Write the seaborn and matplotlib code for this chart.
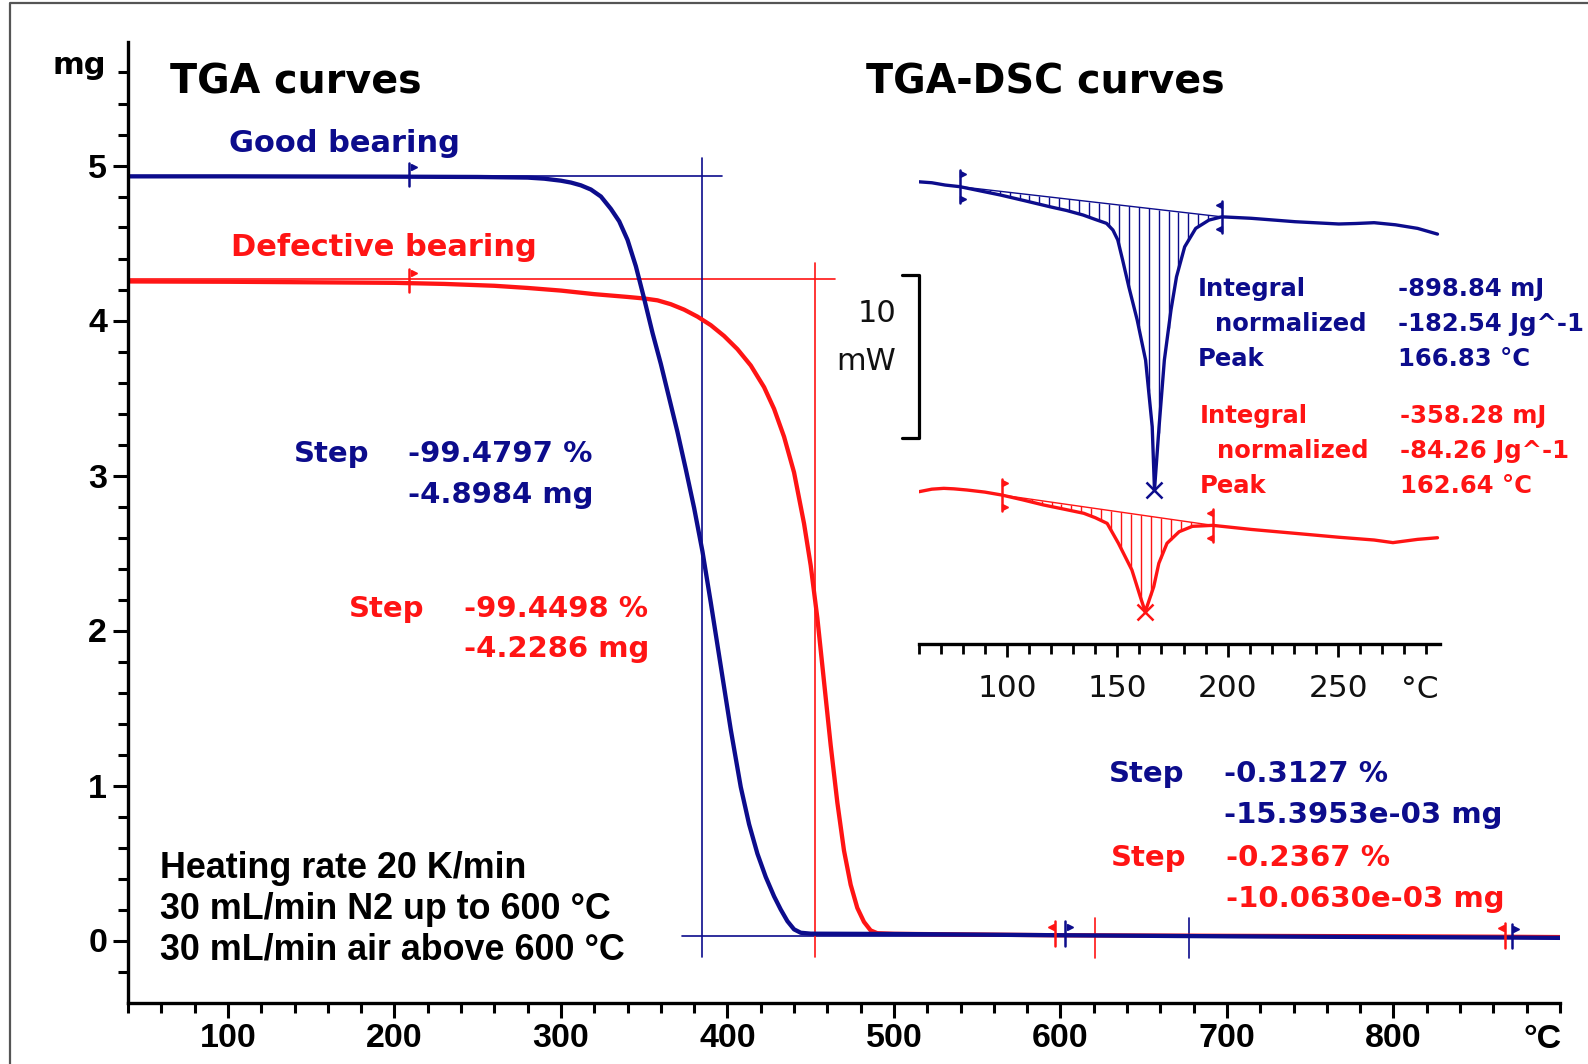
import numpy as np
import matplotlib
matplotlib.use("Agg")
import matplotlib.pyplot as plt
import seaborn as sns
from matplotlib.ticker import FixedLocator, NullFormatter
from matplotlib.lines import Line2D

W, H = 1588, 1064
NAVY = "#0c0c8c"
RED = "#ff1414"

# ---- TGA mass curves (temperature in degC, mass in mg) ----
good_temp = [40, 100, 200, 250, 280, 290, 300, 306, 312, 318, 324, 330, 335, 340,
             345, 350, 355, 360, 365, 370, 375, 380, 385, 390, 396, 402, 408, 413,
             418, 423, 428, 432, 436, 440, 444, 450, 500, 597, 700, 800, 869, 900]
good_mass = [4.930, 4.930, 4.928, 4.926, 4.922, 4.915, 4.902, 4.890, 4.872, 4.845,
             4.800, 4.720, 4.640, 4.520, 4.350, 4.140, 3.920, 3.720, 3.500, 3.280,
             3.040, 2.790, 2.510, 2.180, 1.770, 1.360, 0.990, 0.750, 0.560, 0.410,
             0.285, 0.200, 0.125, 0.072, 0.050, 0.044, 0.042, 0.034, 0.027, 0.022,
             0.019, 0.017]

bad_temp = [40, 100, 200, 230, 260, 280, 300, 320, 340, 350, 358, 366, 374, 382,
            390, 398, 406, 414, 422, 428, 434, 440, 446, 450, 454, 458, 462, 466,
            470, 474, 478, 482, 486, 490, 500, 597, 700, 800, 869, 900]
bad_mass = [4.252, 4.250, 4.243, 4.236, 4.224, 4.210, 4.193, 4.170, 4.152, 4.142,
            4.130, 4.105, 4.070, 4.025, 3.970, 3.900, 3.815, 3.710, 3.570, 3.430,
            3.250, 3.020, 2.690, 2.420, 2.080, 1.670, 1.260, 0.890, 0.580, 0.360,
            0.210, 0.120, 0.065, 0.047, 0.043, 0.034, 0.030, 0.027, 0.024, 0.022]

# step evaluation: upper / lower reference level (mg) and inflection temperature
good_step_levels = [4.9304, 0.0320]
bad_step_levels = [4.2646, 0.0360]
good_inflection = 384.7
bad_inflection = 452.6
good_step_limits = [208.7, 603.0]
bad_step_limits = [208.7, 597.0]
good_step2 = [603.0, 871.0, 677.0]
bad_step2 = [597.0, 867.0, 621.0]

# ---- DSC heat-flow curves (degC, mW, stacked with an offset) ----
dsc_temp_good = [60, 66, 72, 78.7, 88, 97, 108, 119.4, 127, 134.5, 140, 145.1, 148,
                 150.2, 152.4, 155.2, 159, 162.8, 165.8, 166.83, 168.9, 171.3, 174.3,
                 176.8, 180.5, 185.5, 191.5, 197.3, 210.6, 230.5, 250.3, 258, 266.3,
                 276, 286, 295]
dsc_good = [28.36, 28.30, 28.16, 28.06, 27.80, 27.55, 27.20, 26.83, 26.60, 26.32,
            26.05, 25.81, 25.40, 24.79, 23.56, 21.92, 19.88, 17.42, 13.33, 9.45,
            13.33, 17.42, 20.49, 22.53, 24.37, 25.50, 26.01, 26.21, 26.12, 25.91,
            25.77, 25.80, 25.85, 25.72, 25.50, 25.15]

dsc_temp_bad = [60, 66, 71.4, 76, 81.8, 90, 97.7, 107, 116.6, 126, 134.8, 140, 145.4,
                150.5, 156.6, 160.4, 162.64, 166.5, 168.8, 172.5, 178, 184, 193.2,
                210.6, 230.5, 250.3, 266.3, 274.8, 286, 295]
dsc_bad = [9.34, 9.50, 9.55, 9.52, 9.45, 9.32, 9.14, 8.85, 8.53, 8.27, 8.02, 7.75,
           7.40, 6.18, 4.54, 2.90, 1.98, 3.52, 4.95, 6.18, 6.89, 7.22, 7.28, 7.03,
           6.79, 6.55, 6.38, 6.22, 6.42, 6.52]

good_peak = 166.83
bad_peak = 162.64
good_int_limits = [78.7, 197.3]
bad_int_limits = [97.7, 193.2]
scale_bar_mw = 10

main_xticks = [100, 200, 300, 400, 500, 600, 700, 800]
main_yticks = [0, 1, 2, 3, 4, 5]
dsc_xticks = [100, 150, 200, 250]

sns.set_theme(style="white")
plt.rcParams["font.family"] = ["DejaVu Sans"]
plt.rcParams["axes.linewidth"] = 2.4


def fx(x):
    return x / W


def fy(y):
    return 1 - y / H


fig = plt.figure(figsize=(W / 100, H / 100), dpi=100)
fig.patch.set_facecolor("white")

# ---------------- main TGA axes ----------------
ax = fig.add_axes([fx(128), fy(1002.5), 1432 / W, 961 / H])
ax.set_xlim(40, 900)
ax.set_ylim(-0.4, 5.8)
ax.patch.set_alpha(0)
for s in ("top", "right"):
    ax.spines[s].set_visible(False)
for s in ("left", "bottom"):
    ax.spines[s].set_color("black")
    ax.spines[s].set_linewidth(2.4)

ax.xaxis.set_major_locator(FixedLocator(main_xticks))
ax.xaxis.set_minor_locator(FixedLocator(np.arange(40, 901, 20)))
ax.yaxis.set_major_locator(FixedLocator(main_yticks))
ax.yaxis.set_minor_locator(FixedLocator(np.arange(-0.2, 5.61, 0.2)))
ax.xaxis.set_minor_formatter(NullFormatter())
ax.yaxis.set_minor_formatter(NullFormatter())
ax.set_xticklabels([str(v) for v in main_xticks])
ax.set_yticklabels([str(v) for v in main_yticks])
ax.tick_params(which="major", direction="out", length=11, width=2.2,
               color="black", labelcolor="black", labelsize=24.5, pad=4,
               bottom=True, left=True)
ax.tick_params(which="minor", direction="out", length=7.5, width=2.2,
               color="black", bottom=True, left=True)
for lab in ax.get_xticklabels() + ax.get_yticklabels():
    lab.set_fontfamily("Liberation Sans")
    lab.set_fontweight("bold")

# reference lines of the main step evaluation
thin = 1.2
ax.plot([40, 396.7], [good_step_levels[0]] * 2, color=NAVY, lw=thin)
ax.plot([40, 464.6], [bad_step_levels[0]] * 2, color=RED, lw=thin)
ax.plot([372.7, 900], [good_step_levels[1]] * 2, color=NAVY, lw=thin, zorder=1)
ax.plot([good_inflection] * 2, [5.05, -0.108], color=NAVY, lw=thin)
ax.plot([bad_inflection] * 2, [4.37, -0.108], color=RED, lw=thin)
ax.plot([bad_step2[2]] * 2, [0.148, -0.116], color=RED, lw=thin)
ax.plot([good_step2[2]] * 2, [0.148, -0.116], color=NAVY, lw=thin)

sns.lineplot(x=bad_temp, y=bad_mass, ax=ax, color=RED, lw=3.1,
             estimator=None, sort=False)
sns.lineplot(x=good_temp, y=good_mass, ax=ax, color=NAVY, lw=3.1,
             estimator=None, sort=False)

# evaluation flags
for t, m, c in [(good_step_limits[0], np.interp(good_step_limits[0], good_temp, good_mass), NAVY),
                (bad_step_limits[0], np.interp(bad_step_limits[0], bad_temp, bad_mass), RED)]:
    ax.plot([t, t], [m - 0.06, m + 0.09], color=c, lw=1.8)
    ax.plot([t + 3], [m + 0.065], marker=">", ms=5, color=c, mec=c)

for lims, temps, mass, c, flip in [(bad_step2, bad_temp, bad_mass, RED, -1),
                                   (good_step2, good_temp, good_mass, NAVY, 1)]:
    for t in lims[:2]:
        m = np.interp(t, temps, mass)
        ax.plot([t, t], [m - 0.07, m + 0.09], color=c, lw=1.8)
        ax.plot([t + 2.6 * flip], [m + 0.055], marker=">" if flip > 0 else "<",
                ms=5, color=c, mec=c)

# ---------------- DSC inset ----------------
ax2 = fig.add_axes([fx(918.6), fy(644), 521.1 / W, 494 / H])
ax2.set_xlim(60, 296)
ax2.set_ylim(0, 30.31)
ax2.patch.set_alpha(0)
for s in ("top", "right", "left"):
    ax2.spines[s].set_visible(False)
ax2.spines["bottom"].set_color("black")
ax2.spines["bottom"].set_linewidth(2.4)
ax2.xaxis.set_major_locator(FixedLocator(dsc_xticks))
ax2.xaxis.set_minor_locator(FixedLocator(np.arange(60, 291, 10)))
ax2.xaxis.set_minor_formatter(NullFormatter())
ax2.set_xticklabels([str(v) for v in dsc_xticks])
ax2.set_yticks([])
ax2.tick_params(which="major", direction="out", length=9.5, width=2.0,
                color="black", labelcolor="#111111", labelsize=22.5, pad=12,
                bottom=True, left=False)
ax2.tick_params(which="minor", direction="out", length=7, width=2.0,
                color="black", bottom=True)

for temps, vals, lims, peak, c in [(dsc_temp_good, dsc_good, good_int_limits, good_peak, NAVY),
                                   (dsc_temp_bad, dsc_bad, bad_int_limits, bad_peak, RED)]:
    sns.lineplot(x=temps, y=vals, ax=ax2, color=c, lw=2.4, estimator=None, sort=False)
    y0, y1 = np.interp(lims, temps, vals)
    ax2.plot(lims, [y0, y1], color=c, lw=1.0)
    ht = np.arange(lims[0] + 4.5, lims[1], 4.5)
    base = np.interp(ht, lims, [y0, y1])
    curve = np.interp(ht, temps, vals)
    ax2.vlines(ht, curve, base, color=c, lw=1.0)
    for t, y, mk in [(lims[0], y0, ">"), (lims[1], y1, "<")]:
        ax2.plot([t, t], [y - 1.0, y + 1.0], color=c, lw=1.8)
        off = 1.3 if mk == ">" else -1.3
        ax2.plot([t + off, t + off], [y + 0.75, y - 0.75], ls="none",
                 marker=mk, ms=5, color=c, mec=c)
    py = np.interp(peak, temps, vals)
    ax2.plot([peak], [py], marker="x", ms=11, mew=1.8, color=c)

# 10 mW scale bar
sb_top = 22.64
ax2.plot([52.5, 60, 60, 52.5], [sb_top, sb_top, sb_top - scale_bar_mw, sb_top - scale_bar_mw],
         color="black", lw=2.3, clip_on=False)
fig.text(fx(896), fy(314), str(scale_bar_mw), ha="right", va="center", fontsize=22,
         color="#111111")
fig.text(fx(896), fy(361), "mW", ha="right", va="center", fontsize=22, color="#111111")
fig.text(fx(1420), fy(689), "°C", ha="center", va="center", fontsize=22.5, color="#111111")

# ---------------- texts ----------------
bold = dict(fontweight="bold", va="center", ha="left")
fig.text(fx(79), fy(66), "mg", ha="center", va="center", fontsize=22,
         fontweight="bold", color="black")
fig.text(fx(1562), fy(1039), "°C", ha="right", va="center", fontsize=24.5,
         fontweight="bold", color="black", fontfamily="Liberation Sans")
fig.text(fx(170), fy(83), "TGA curves", fontsize=28.5, color="black", **bold)
fig.text(fx(866), fy(83), "TGA-DSC curves", fontsize=28.5, color="black", **bold)
fig.text(fx(229), fy(143), "Good bearing", fontsize=22, color=NAVY, **bold)
fig.text(fx(231), fy(248), "Defective bearing", fontsize=22, color=RED, **bold)

fig.text(fx(294), fy(454), "Step", fontsize=21, color=NAVY, **bold)
fig.text(fx(408), fy(454), "-99.4797 %", fontsize=21, color=NAVY, **bold)
fig.text(fx(408), fy(495), "-4.8984 mg", fontsize=21, color=NAVY, **bold)
fig.text(fx(349), fy(609), "Step", fontsize=21, color=RED, **bold)
fig.text(fx(464), fy(609), "-99.4498 %", fontsize=21, color=RED, **bold)
fig.text(fx(464), fy(649), "-4.2286 mg", fontsize=21, color=RED, **bold)

fig.text(fx(1109), fy(774), "Step", fontsize=21, color=NAVY, **bold)
fig.text(fx(1224), fy(774), "-0.3127 %", fontsize=21, color=NAVY, **bold)
fig.text(fx(1224), fy(815), "-15.3953e-03 mg", fontsize=21, color=NAVY, **bold)
fig.text(fx(1111), fy(858), "Step", fontsize=21, color=RED, **bold)
fig.text(fx(1226), fy(858), "-0.2367 %", fontsize=21, color=RED, **bold)
fig.text(fx(1226), fy(899), "-10.0630e-03 mg", fontsize=21, color=RED, **bold)

for row, (lbl, val) in enumerate([("Integral", "-898.84 mJ"),
                                  ("  normalized", "-182.54 Jg^-1"),
                                  ("Peak", f"{good_peak:.2f} °C")]):
    y = 289 + row * 35
    fig.text(fx(1198), fy(y), lbl, fontsize=17.5, color=NAVY, **bold)
    fig.text(fx(1398), fy(y), val, fontsize=17.5, color=NAVY, **bold)
for row, (lbl, val) in enumerate([("Integral", "-358.28 mJ"),
                                  ("  normalized", "-84.26 Jg^-1"),
                                  ("Peak", f"{bad_peak:.2f} °C")]):
    y = 416 + row * 35
    fig.text(fx(1200), fy(y), lbl, fontsize=17.5, color=RED, **bold)
    fig.text(fx(1400), fy(y), val, fontsize=17.5, color=RED, **bold)

for i, line in enumerate(["Heating rate 20 K/min",
                          "30 mL/min N2 up to 600 °C",
                          "30 mL/min air above 600 °C"]):
    fig.text(fx(160), fy(869 + i * 40.5), line, fontsize=25.8, color="black",
             fontfamily="Liberation Sans", fontweight="bold", va="center", ha="left")

# outer frame
fig.add_artist(Line2D([fx(10), fx(10), 1.0], [0.0, fy(3), fy(3)],
                      transform=fig.transFigure, color="#555555", lw=1.6))

fig.savefig("out.png", dpi=100)
